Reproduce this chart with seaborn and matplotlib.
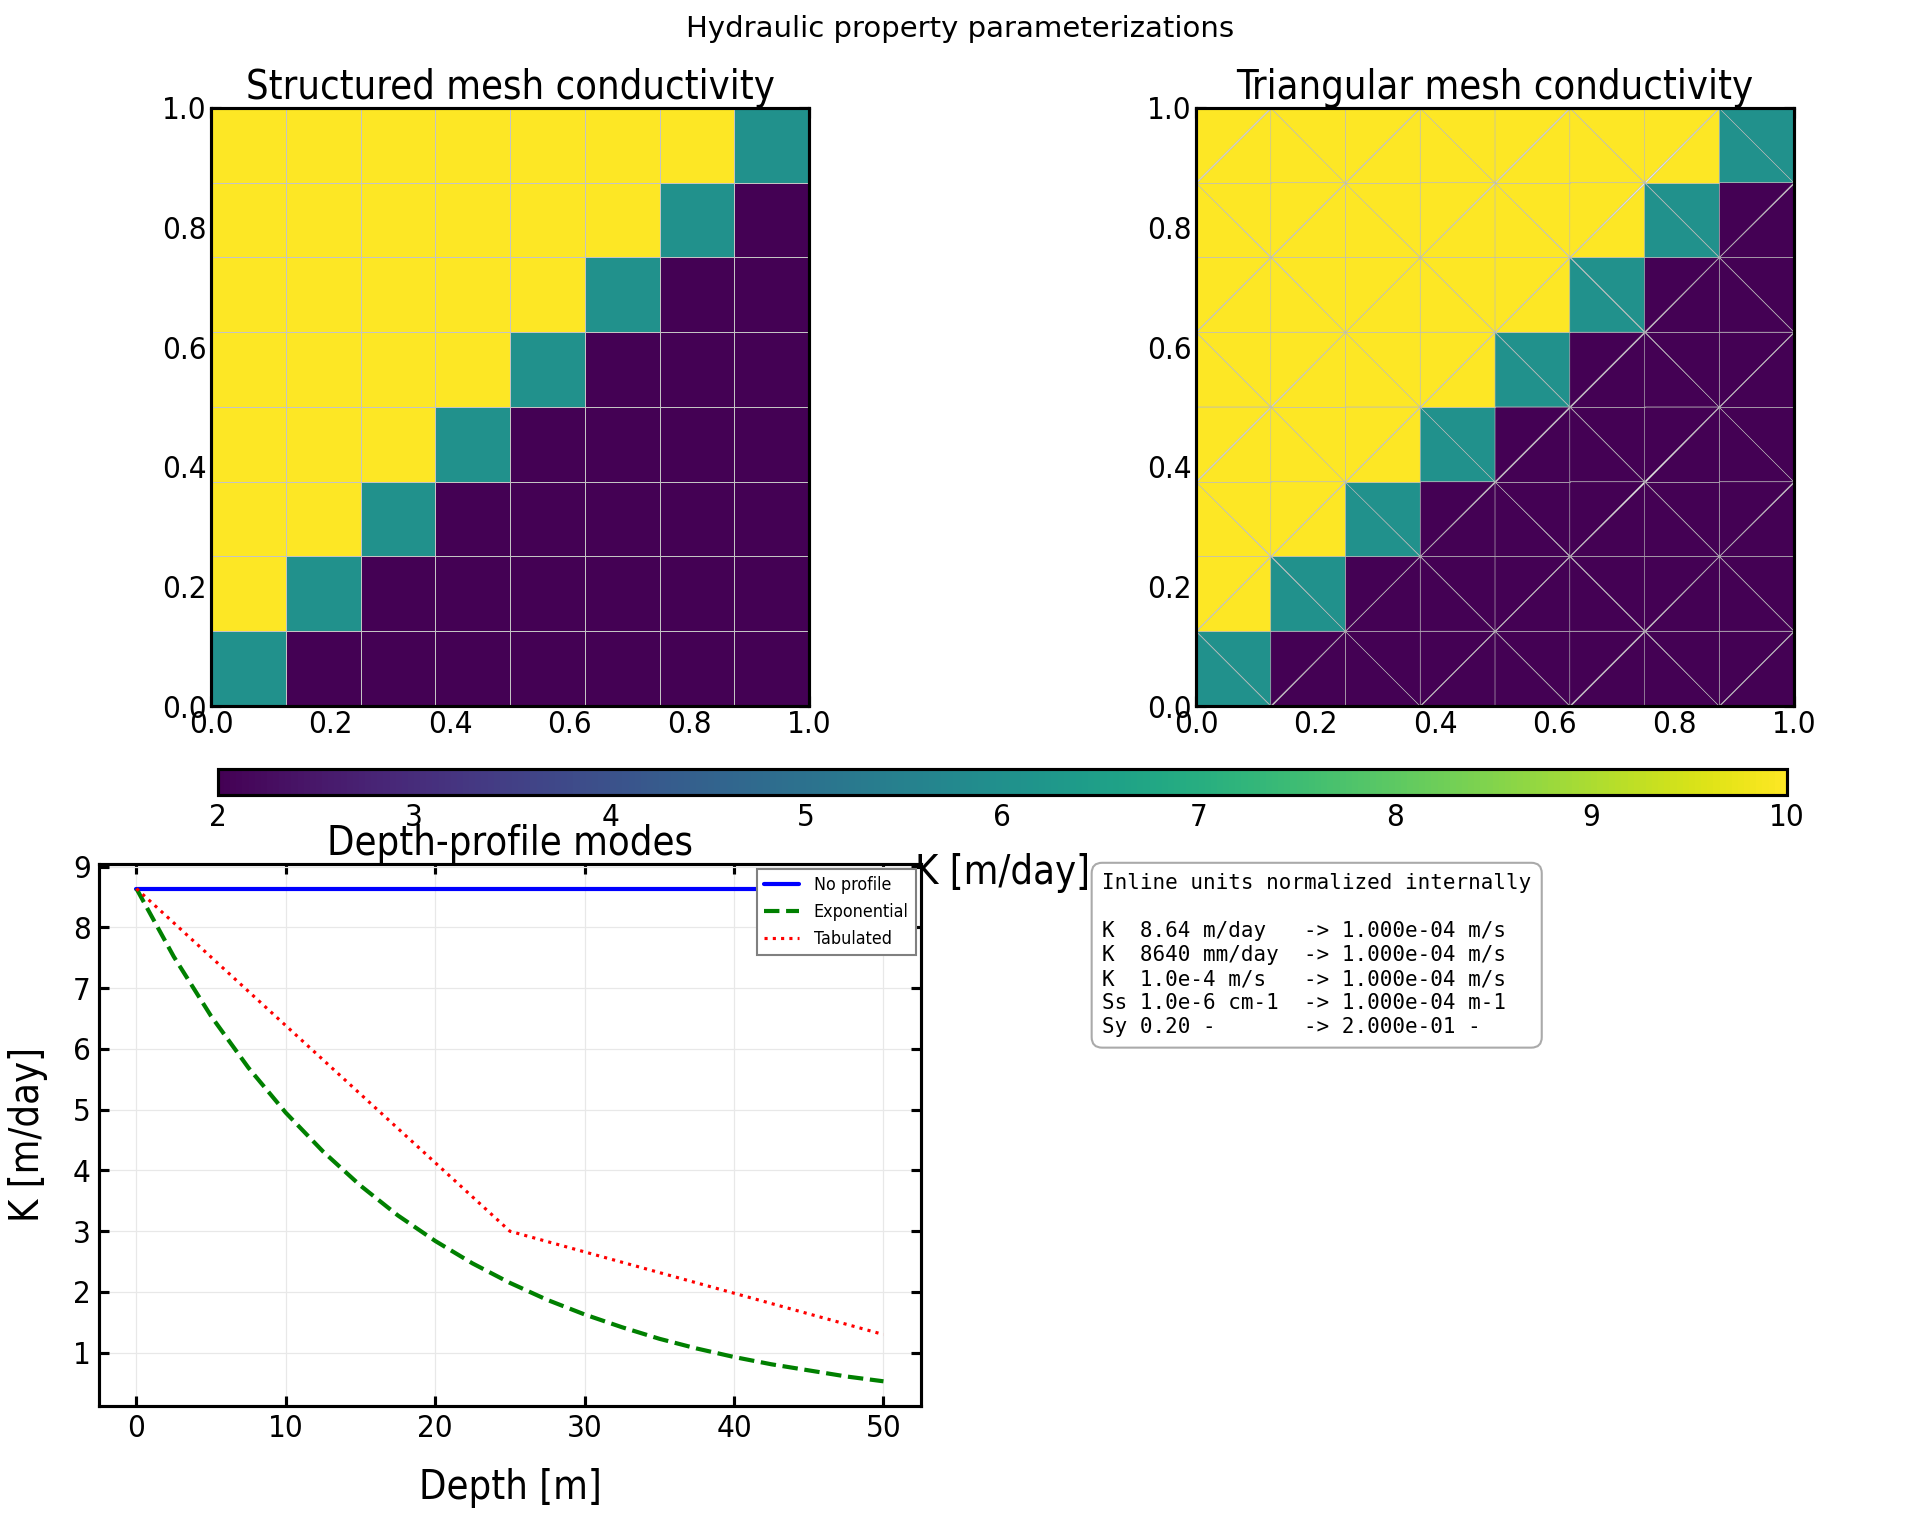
import numpy as np
import pandas as pd
import seaborn as sns
import matplotlib
matplotlib.use("Agg")
import matplotlib.pyplot as plt
import matplotlib.tri as mtri

# ---- data ----
grid_edges = [0.0, 0.125, 0.25, 0.375, 0.5, 0.625, 0.75, 0.875, 1.0]
# K per cell [m/day], rows from bottom (y=0) to top (y=1)
K_cells = [
    [6, 2, 2, 2, 2, 2, 2, 2],
    [10, 6, 2, 2, 2, 2, 2, 2],
    [10, 10, 6, 2, 2, 2, 2, 2],
    [10, 10, 10, 6, 2, 2, 2, 2],
    [10, 10, 10, 10, 6, 2, 2, 2],
    [10, 10, 10, 10, 10, 6, 2, 2],
    [10, 10, 10, 10, 10, 10, 6, 2],
    [10, 10, 10, 10, 10, 10, 10, 6],
]

depth = [0, 2.5, 5, 7.5, 10, 12.5, 15, 17.5, 20, 22.5, 25,
         27.5, 30, 32.5, 35, 37.5, 40, 42.5, 45, 47.5, 50]
k_none = [8.64] * len(depth)
k_exp = [8.64, 7.52, 6.54, 5.69, 4.95, 4.31, 3.75, 3.26, 2.84, 2.47, 2.15,
         1.87, 1.63, 1.42, 1.23, 1.07, 0.93, 0.81, 0.71, 0.61, 0.53]
tab_depth = [0, 25, 50]
tab_k = [8.64, 3.0, 1.3]

info_lines = [
    "Inline units normalized internally",
    "",
    "K  8.64 m/day   -> 1.000e-04 m/s",
    "K  8640 mm/day  -> 1.000e-04 m/s",
    "K  1.0e-4 m/s   -> 1.000e-04 m/s",
    "Ss 1.0e-6 cm-1  -> 1.000e-04 m-1",
    "Sy 0.20 -       -> 2.000e-01 -",
]

# ---- style ----
sns.set_theme(style="whitegrid", rc={
    "axes.edgecolor": "black",
    "axes.linewidth": 1.5,
    "axes.labelcolor": "black",
    "text.color": "black",
    "grid.color": "#e6e6e6",
    "grid.linewidth": 0.6,
    "xtick.direction": "in",
    "ytick.direction": "in",
    "xtick.top": True,
    "ytick.right": True,
    "xtick.bottom": True,
    "ytick.left": True,
    "xtick.major.size": 5,
    "ytick.major.size": 5,
    "xtick.major.width": 1.5,
    "ytick.major.width": 1.5,
    "xtick.color": "black",
    "ytick.color": "black",
})
plt.rcParams["font.family"] = ["DejaVu Sans"]
plt.rcParams["font.stretch"] = "condensed"

fig = plt.figure(figsize=(12.8, 1516 / 150), dpi=150)
fig.suptitle("Hydraulic property parameterizations", fontsize=14, y=0.99,
             fontstretch="normal")

vmin, vmax = 2, 10
cmap = "viridis"
K = np.array(K_cells, dtype=float)
edges = np.array(grid_edges)

# structured mesh
ax1 = fig.add_axes([0.1099, 0.5343, 0.3115, 0.3945])
mesh = ax1.pcolormesh(edges, edges, K, cmap=cmap, vmin=vmin, vmax=vmax,
                      edgecolors="#c4c4c4", linewidth=0.3)
ax1.set_title("Structured mesh conductivity", fontsize=19, pad=1)

# triangular mesh (union-jack split of each cell)
n = len(edges)
X, Y = np.meshgrid(edges, edges)
xs, ys = X.ravel(), Y.ravel()
tris, vals = [], []
for r in range(n - 1):
    for c in range(n - 1):
        a = r * n + c
        b = a + 1
        d = a + n
        e = d + 1
        if (r + c) % 2 == 0:
            tris += [[a, b, d], [b, e, d]]
        else:
            tris += [[a, b, e], [a, e, d]]
        vals += [K_cells[r][c]] * 2
tri = mtri.Triangulation(xs, ys, tris)
ax2 = fig.add_axes([0.6229, 0.5343, 0.3115, 0.3945])
ax2.tripcolor(tri, facecolors=np.array(vals, dtype=float), cmap=cmap,
              vmin=vmin, vmax=vmax, edgecolors="#bbbbbb", linewidth=0.3)
ax2.set_title("Triangular mesh conductivity", fontsize=19, pad=1)

for ax in (ax1, ax2):
    ax.set_xlim(0, 1)
    ax.set_ylim(0, 1)
    ax.set_xticks([0, 0.2, 0.4, 0.6, 0.8, 1.0])
    ax.set_yticks([0, 0.2, 0.4, 0.6, 0.8, 1.0])
    ax.grid(False)
    ax.tick_params(labelsize=15, pad=2)

# colorbar
cax = fig.add_axes([0.1135, 0.4756, 0.8172, 0.0172])
cb = fig.colorbar(mesh, cax=cax, orientation="horizontal")
cb.set_ticks([2, 3, 4, 5, 6, 7, 8, 9, 10])
cb.ax.tick_params(labelsize=15, length=0, top=False, pad=4)
cb.outline.set_linewidth(1.5)
cb.set_label("K [m/day]", fontsize=19, labelpad=10)

# depth profiles
ax3 = fig.add_axes([0.0516, 0.0726, 0.428, 0.3575])
prof = pd.DataFrame({"depth": depth, "none": k_none, "exp": k_exp})
sns.lineplot(data=prof, x="depth", y="none", ax=ax3, color="blue",
             linewidth=2, label="No profile")
sns.lineplot(data=prof, x="depth", y="exp", ax=ax3, color="green",
             linewidth=2, linestyle="--", label="Exponential")
sns.lineplot(x=tab_depth, y=tab_k, ax=ax3, color="red",
             linewidth=1.5, linestyle=":", label="Tabulated")
ax3.set_title("Depth-profile modes", fontsize=19, pad=1)
ax3.set_xlabel("Depth [m]", fontsize=19, labelpad=12)
ax3.set_ylabel("K [m/day]", fontsize=19, labelpad=12)
ax3.set_xticks([0, 10, 20, 30, 40, 50])
ax3.set_yticks([1, 2, 3, 4, 5, 6, 7, 8, 9])
ax3.tick_params(labelsize=15, pad=4)
ax3.grid(True, color="#e8e8e8", linewidth=0.6)
leg = ax3.legend(loc="upper right", fontsize=8.5, fancybox=False,
                 framealpha=1, edgecolor="gray", borderaxespad=0.3)

# unit normalisation box
fig.text(0.574, 0.424, "\n".join(info_lines), family="monospace",
         fontsize=10, va="top", ha="left", linespacing=1.25,
         bbox=dict(boxstyle="round,pad=0.5", fc="white", ec="#aaaaaa"))

fig.savefig("out.png", dpi=150)
